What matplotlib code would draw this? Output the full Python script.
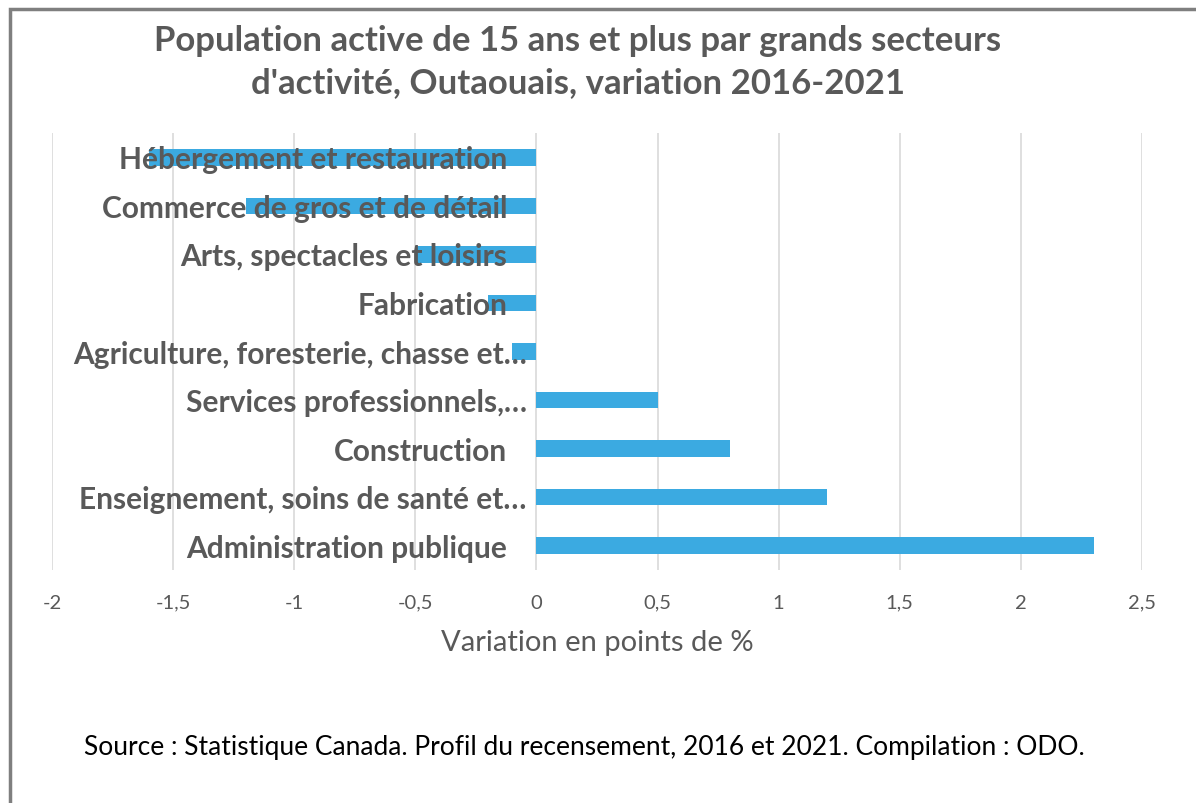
import matplotlib.pyplot as plt
from matplotlib.patches import Rectangle
from matplotlib.transforms import offset_copy

plt.rcParams["font.family"] = ["Lato", "DejaVu Sans"]

# Sectors from top to bottom, variation 2016-2021 (points de %)
sectors = [
    "Hébergement et restauration",
    "Commerce de gros et de détail",
    "Arts, spectacles et loisirs",
    "Fabrication",
    "Agriculture, foresterie, chasse et…",
    "Services professionnels,…",
    "Construction",
    "Enseignement, soins de santé et…",
    "Administration publique",
]
variation = [-1.6, -1.2, -0.5, -0.2, -0.1, 0.5, 0.8, 1.2, 2.3]

x_ticks = [-2, -1.5, -1, -0.5, 0, 0.5, 1, 1.5, 2, 2.5]
x_tick_labels = ["-2", "-1,5", "-1", "-0,5", "0", "0,5", "1", "1,5", "2", "2,5"]

GRAY = "#595959"
BLUE = "#3BAAE1"

fig = plt.figure(figsize=(11.96, 8.04), dpi=100)
ax = fig.add_axes([52 / 1196, 1 - 571 / 804, (1142 - 52) / 1196, (571 - 134) / 804])

ypos = list(range(len(sectors)))[::-1]
ax.barh(ypos, variation, height=0.34, color=BLUE, zorder=2)

ax.set_xlim(-2, 2.5)
ax.set_ylim(-0.5, len(sectors) - 0.5)
ax.set_xticks(x_ticks)
ax.set_xticklabels(x_tick_labels, color=GRAY, fontsize=14.5)
ax.tick_params(axis="x", length=0, pad=17)
ax.set_yticks([])
ax.grid(axis="x", color="#D9D9D9", linewidth=1.2, zorder=0)
for s in ax.spines.values():
    s.set_visible(False)

# category labels sit right-aligned near the zero line, over the bars
for y, name in zip(ypos, sectors):
    dx = -7 if name.endswith("…") else -21
    tr = offset_copy(ax.transData, fig=fig, x=dx, y=-1.5, units="points")
    ax.text(0, y, name, transform=tr, ha="right", va="center",
            fontsize=21.5, fontweight="bold", color=GRAY, zorder=3)

ax.set_xlabel("Variation en points de %", color=GRAY, fontsize=21, labelpad=13)

fig.text(578 / 1196, 1 - 62 / 804,
         "Population active de 15 ans et plus par grands secteurs\nd'activité, Outaouais, variation 2016-2021",
         ha="center", va="center", fontsize=25, fontweight="bold", color=GRAY, linespacing=1.35)

fig.text(584 / 1196, 1 - 748 / 804,
         "Source : Statistique Canada. Profil du recensement, 2016 et 2021. Compilation : ODO.",
         ha="center", va="center", fontsize=19, color="black")

# outer frame (right and bottom edges fall outside the picture)
fig.patches.append(Rectangle((10 / 1196, -0.1), 1.2, 1.1 - 10 / 804,
                             transform=fig.transFigure, fill=False,
                             edgecolor="#7F7F7F", linewidth=2.5))

fig.savefig("out.png", dpi=100)
